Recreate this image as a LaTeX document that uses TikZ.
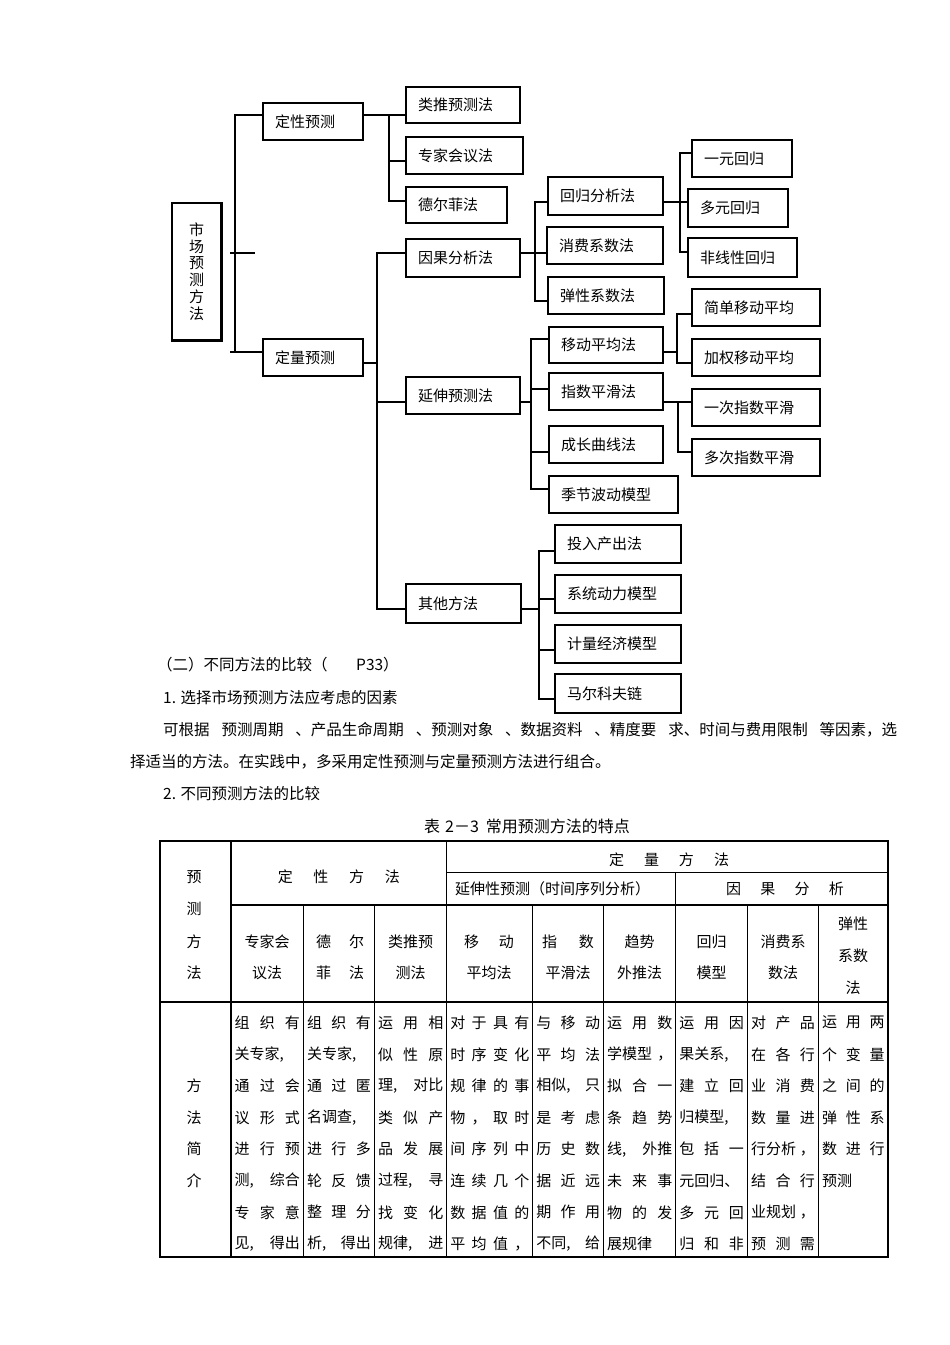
\documentclass[tikz,border=0pt]{standalone}
\usepackage{fontspec}
\setmainfont{Noto Sans CJK SC}
\usetikzlibrary{calc}
\tikzset{
  bx/.style={draw=black, line width=1.1pt, inner xsep=12pt, inner ysep=0pt, align=left, font=\fontsize{15}{18}\selectfont},
  conn/.style={line width=1.1pt, draw=black},
  mainv/.style={line width=1.7pt, draw=black},
  tbl/.style={line width=1.1pt, draw=black},
  thk/.style={line width=1.9pt, draw=black},
  tx/.style={inner sep=0pt, font=\fontsize{15}{18}\selectfont},
  para/.style={inner sep=0pt, anchor=west, font=\fontsize{15.5}{18}\selectfont},
}
\newcommand\diabox[6]{%
  \pgfmathsetmacro\dbw{#4-#2}%
  \pgfmathsetmacro\dbh{#5-#3}%
  \pgfmathsetmacro\dbt{#4-#2-24}%
  \node[bx, minimum width=\dbw pt, minimum height=\dbh pt, text width=\dbt pt] (#1) at ({(#2+#4)/2},{(#3+#5)/2}) {#6};}
\newcommand\bodycol[4]{%
  \foreach \ctx [count=\ci] in {#4} {%
    \node[tx, anchor=west] (#1\ci) at (#2,{1022.7+31.6*(\ci-1)}) {\makebox[#3pt][s]{\ctx}};}}
\begin{document}
\begin{tikzpicture}[x=1pt,y=-1pt]
\fill[white] (0,0) rectangle (950,1345);
\useasboundingbox (0,0) rectangle (950,1345);

% ---------- diagram boxes ----------
\node[draw=black, line width=1.1pt, minimum width=49pt, minimum height=137pt, inner sep=0pt, align=center, font=\fontsize{15}{16.8}\selectfont] (root) at (196.5,271.5) {市\\场\\预\\测\\方\\法};
\draw[thk] (root.north east) -- (root.south east) -- (root.south west);

\diabox{dx}{263}{103}{363}{140}{定性预测}
\diabox{lt}{406}{87}{520}{123}{类推预测法}
\diabox{zj}{406}{137}{523}{174}{专家会议法}
\diabox{de}{406}{187}{507}{223}{德尔菲法}
\diabox{dl}{263}{339}{363}{376}{定量预测}
\diabox{yg}{406}{239}{520}{277}{因果分析法}
\diabox{hg}{548}{177}{663}{215}{回归分析法}
\diabox{xf}{547}{227}{663}{264}{消费系数法}
\diabox{tx}{548}{277}{664}{314}{弹性系数法}
\diabox{ya}{692}{140}{792}{177}{一元回归}
\diabox{yb}{688}{189}{788}{227}{多元回归}
\diabox{yc}{688}{238}{797}{277}{非线性回归}
\diabox{ys}{406}{377}{520}{414}{延伸预测法}
\diabox{yd}{549}{327}{663}{363}{移动平均法}
\diabox{zs}{549}{373}{663}{410}{指数平滑法}
\diabox{cz}{549}{426}{663}{463}{成长曲线法}
\diabox{jj}{549}{476}{678}{513}{季节波动模型}
\diabox{ma}{692}{289}{820}{326}{简单移动平均}
\diabox{mb}{692}{339}{820}{376}{加权移动平均}
\diabox{ea}{692}{389}{820}{426}{一次指数平滑}
\diabox{eb}{692}{439}{820}{476}{多次指数平滑}
\diabox{qt}{406}{584}{521}{623}{其他方法}
\diabox{oa}{555}{525}{681}{563}{投入产出法}
\diabox{ob}{555}{575}{681}{613}{系统动力模型}
\diabox{oc}{555}{625}{681}{663}{计量经济模型}
\diabox{od}{555}{674}{681}{713}{马尔科夫链}

% ---------- connectors ----------
\coordinate (rt) at (235,115);
\coordinate (rb) at (235,352);
\coordinate (rm) at (235,253);
\draw[conn] (dx.west |- rt) -- (rt) -- (rb) -- (dl.west |- rb);
\draw[conn] (rb) -- ++(-5,0);
\draw[conn] ([xshift=-5pt]rm) -- ([xshift=20pt]rm);

\coordinate (qa) at (389,115);
\coordinate (qb) at (389,161);
\coordinate (qc) at (389,201);
\draw[conn] (dx.east |- qa) -- (qa) -- (lt.west |- qa);
\draw[conn] (qa) -- (qc) -- (de.west |- qc);
\draw[conn] (qb) -- (zj.west |- qb);

\coordinate (va) at (377,253);
\coordinate (vb) at (377,363);
\coordinate (vc) at (377,402);
\coordinate (vd) at (377,609);
\draw[mainv] (yg.west |- va) -- (va) -- (vd) -- (qt.west |- vd);
\draw[conn] (dl.east |- vb) -- (vb);
\draw[conn] (vc) -- (ys.west |- vc);

\coordinate (ca) at (535,202);
\coordinate (cb) at (535,253);
\coordinate (cc) at (535,301);
\draw[conn] (yg.east |- cb) -- (cb);
\draw[conn] (hg.west |- ca) -- (ca) -- (cc) -- (tx.west |- cc);
\draw[conn] (cb) -- (xf.west |- cb);

\coordinate (ra) at (680,153);
\coordinate (rr) at (680,202);
\coordinate (rc) at (680,252);
\draw[conn] (hg.east |- rr) -- (rr);
\draw[conn] (ya.west |- ra) -- (ra) -- (rc) -- (yc.west |- rc);
\draw[conn] (rr) -- (yb.west |- rr);

\coordinate (ee) at (531,402);
\coordinate (e1) at (531,339);
\coordinate (e2) at (531,389);
\coordinate (e3) at (531,452);
\coordinate (e4) at (531,489);
\draw[conn] (ys.east |- ee) -- (ee);
\draw[conn] (yd.west |- e1) -- (e1) -- (e4) -- (jj.west |- e4);
\draw[conn] (e2) -- (zs.west |- e2);
\draw[conn] (e3) -- (cz.west |- e3);

\coordinate (m1) at (677,314);
\coordinate (m2) at (677,352);
\coordinate (m3) at (677,363);
\draw[conn, line width=1.5pt] (yd.east |- m2) -- (m2);
\draw[conn, line width=1.5pt] (ma.west |- m1) -- (m1) -- (m3) -- (mb.west |- m3);

\coordinate (x1) at (678,402);
\coordinate (x2) at (678,452);
\draw[conn] (zs.east |- x1) -- (x1) -- (ea.west |- x1);
\draw[conn] (x1) -- (x2) -- (eb.west |- x2);

\coordinate (oe) at (539,609);
\coordinate (o1) at (539,551);
\coordinate (o2) at (539,599);
\coordinate (o3) at (539,650);
\coordinate (o4) at (539,699);
\draw[conn] (qt.east |- oe) -- (oe);
\draw[conn] (oa.west |- o1) -- (o1) -- (o4) -- (od.west |- o4);
\draw[conn] (o2) -- (ob.west |- o2);
\draw[conn] (o3) -- (oc.west |- o3);

% ---------- paragraph text ----------
\node[para] (p1) at (157,665) {（二）不同方法的比较（};
\node[para] (p1b) at (356,665) {P33）};
\node[para] (p2) at (163,697.3) {1. 选择市场预测方法应考虑的因素};
\node[para] (p3) at (163,729.3) {\makebox[734pt][s]{可根据\hfill 预测周期\hfill 、产品生命周期\hfill 、预测对象\hfill 、数据资料\hfill 、精度要\hfill 求、时间与费用限制\hfill 等因素，选}};
\node[para] (p4) at (130,761.7) {择适当的方法。在实践中，多采用定性预测与定量预测方法进行组合。};
\node[para] (p5) at (163,794) {2. 不同预测方法的比较};
\node[para, font=\fontsize{16}{18}\selectfont] (cap) at (424,826) {表\hspace{5pt}2－3\hspace{7pt}常用预测方法的特点};

% ---------- table ----------
\draw[tbl] (160,841) rectangle (888,1257);
\draw[tbl] (231,841) -- (231,1257);
\draw[tbl] (446.7,841) -- (446.7,1257);
\draw[tbl] (446.7,872.3) -- (888,872.3);
\draw[tbl] (231,905) -- (888,905);
\draw[tbl] (675.7,872.3) -- (675.7,1257);
\foreach \xx in {303.3,374.3,532.7,603.3,747.3,818.3} \draw[tbl] (\xx,905) -- (\xx,1257);
\draw[thk] (160,1001.7) -- (888,1001.7);
\draw[thk] (160,1257) -- (888,1257);

\foreach \ch/\yy [count=\k] in {预/877,测/908.5,方/941.5,法/973} \node[tx] (hp\k) at (194,\yy) {\ch};
\foreach \ch/\yy [count=\k] in {方/1085.9,法/1117.5,简/1149.1,介/1180.7} \node[tx] (bp\k) at (194,\yy) {\ch};

\node[tx] (hdx) at (338.8,877) {\makebox[122pt][s]{定\hfill 性\hfill 方\hfill 法}};
\node[tx] (hdl) at (669,860) {\makebox[120pt][s]{定\hfill 量\hfill 方\hfill 法}};
\node[tx, anchor=west] (hys) at (455,888.5) {延伸性预测（时间序列分析）};
\node[tx] (hyg) at (785,888.5) {\makebox[118pt][s]{因\hfill 果\hfill 分\hfill 析}};

\node[tx] (s1a) at (267,942) {专家会};
\node[tx] (s1b) at (267,973) {议法};
\node[tx] (s2a) at (340,942) {\makebox[48pt][s]{德\hfill 尔}};
\node[tx] (s2b) at (340,973) {\makebox[48pt][s]{菲\hfill 法}};
\node[tx] (s3a) at (410.5,942) {类推预};
\node[tx] (s3b) at (410.5,973) {测法};
\node[tx] (s4a) at (489,942) {\makebox[50pt][s]{移\hfill 动}};
\node[tx] (s4b) at (489,973) {平均法};
\node[tx] (s5a) at (568,942) {\makebox[52pt][s]{指\hfill 数}};
\node[tx] (s5b) at (568,973) {平滑法};
\node[tx] (s6a) at (639.5,942) {趋势};
\node[tx] (s6b) at (639.5,973) {外推法};
\node[tx] (s7a) at (711.5,942) {回归};
\node[tx] (s7b) at (711.5,973) {模型};
\node[tx] (s8a) at (783,942) {消费系};
\node[tx] (s8b) at (783,973) {数法};
\node[tx] (s9a) at (853,924) {弹性};
\node[tx] (s9b) at (853,956) {系数};
\node[tx] (s9c) at (853,988) {法};

\bodycol{ca}{234.5}{65.3}{组\hfill 织\hfill 有,{关专家,\hfill},通\hfill 过\hfill 会,议\hfill 形\hfill 式,进\hfill 行\hfill 预,{测,\hfill 综合},专\hfill 家\hfill 意,{见,\hfill 得出}}
\bodycol{cb}{306.8}{64}{组\hfill 织\hfill 有,{关专家,\hfill},通\hfill 过\hfill 匿,{名调查,\hfill},进\hfill 行\hfill 多,轮\hfill 反\hfill 馈,整\hfill 理\hfill 分,{析,\hfill 得出}}
\bodycol{cc}{377.8}{65.4}{运\hfill 用\hfill 相,似\hfill 性\hfill 原,{理,\hfill 对比},类\hfill 似\hfill 产,品\hfill 发\hfill 展,{过程,\hfill 寻},找\hfill 变\hfill 化,{规律,\hfill 进}}
\bodycol{cd}{450.2}{79}{对\hfill 于\hfill 具\hfill 有,时\hfill 序\hfill 变\hfill 化,规\hfill 律\hfill 的\hfill 事,物\hfill ，\hfill 取\hfill 时,间\hfill 序\hfill 列\hfill 中,连\hfill 续\hfill 几\hfill 个,数\hfill 据\hfill 值\hfill 的,平\hfill 均\hfill 值\hfill ，}
\bodycol{ce}{536.2}{63.6}{与\hfill 移\hfill 动,平\hfill 均\hfill 法,{相似,\hfill 只},是\hfill 考\hfill 虑,历\hfill 史\hfill 数,据\hfill 近\hfill 远,期\hfill 作\hfill 用,{不同,\hfill 给}}
\bodycol{cf}{606.8}{65.4}{运\hfill 用\hfill 数,学模型\hfill ，,拟\hfill 合\hfill 一,条\hfill 趋\hfill 势,{线,\hfill 外推},未\hfill 来\hfill 事,物\hfill 的\hfill 发,展规律\hfill}
\bodycol{cg}{679.2}{64.6}{运\hfill 用\hfill 因,{果关系,\hfill},建\hfill 立\hfill 回,{归模型,\hfill},包\hfill 括\hfill 一,元回归、\hfill,多\hfill 元\hfill 回,归\hfill 和\hfill 非}
\bodycol{ch}{750.8}{64}{对\hfill 产\hfill 品,在\hfill 各\hfill 行,业\hfill 消\hfill 费,数\hfill 量\hfill 进,行分析\hfill ，,结\hfill 合\hfill 行,业规划\hfill ，,预\hfill 测\hfill 需}
\bodycol{ci}{821.8}{62.7}{运\hfill 用\hfill 两,个\hfill 变\hfill 量,之\hfill 间\hfill 的,弹\hfill 性\hfill 系,数\hfill 进\hfill 行,预测\hfill}
\end{tikzpicture}
\end{document}
